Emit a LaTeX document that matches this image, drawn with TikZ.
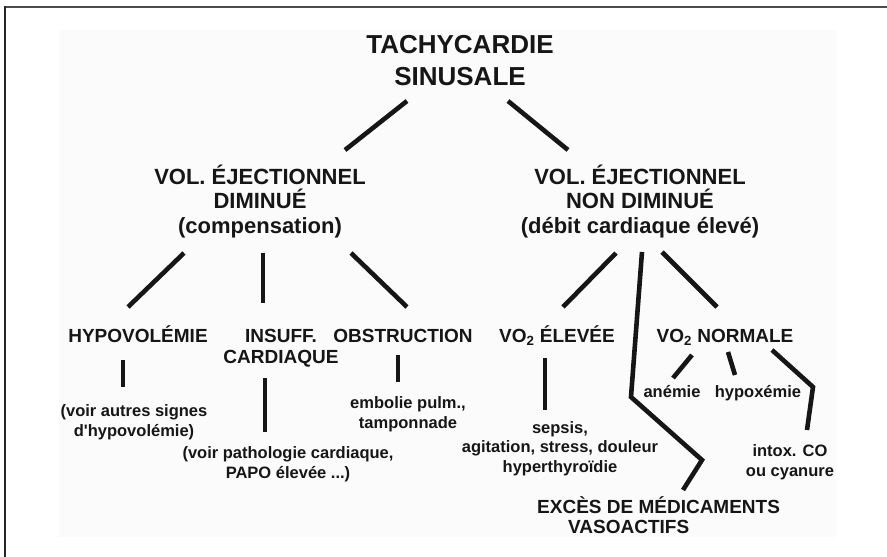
\documentclass[tikz,border=0pt]{standalone}
\usepackage{fontspec}
\setmainfont{Liberation Sans}
\usepackage{xcolor}
\usepackage{tikz}
\usetikzlibrary{positioning}

\definecolor{ink}{HTML}{161616}
\definecolor{paper}{HTML}{FBFBFB}

\begin{document}
\begin{tikzpicture}[
  x=1pt, y=-1pt,
  every node/.style={inner sep=0pt, text=ink, anchor=base},
  head/.style={font=\fontsize{26}{32}\selectfont\bfseries, align=center},
  branch/.style={font=\fontsize{22}{24.5}\selectfont\bfseries, align=center},
  cause/.style={font=\fontsize{19}{21}\selectfont\bfseries, align=center},
  note/.style={font=\fontsize{16.5}{19.5}\selectfont\bfseries, align=center},
  link/.style={draw=ink, line width=4.6pt}
]
  \useasboundingbox (0,0) rectangle (887,557);
  \fill[paper] (59,30) rectangle (836,537);
  \draw[gray!60!black, line width=2pt] (5,7) -- (887,7);
  \draw[black!85, line width=2pt] (5,6) -- (5,557);

  % texts (multi-line nodes sit on their last baseline)
  \node[head] (title) at (460,85) {TACHYCARDIE\\SINUSALE};
  \node[branch] (volA) at (260,233) {VOL. ÉJECTIONNEL\\DIMINUÉ\\(compensation)};
  \node[branch] (volB) at (640,233) {VOL. ÉJECTIONNEL\\NON DIMINUÉ\\(débit cardiaque élevé)};
  \node[cause] (hypo) at (138,342) {HYPOVOLÉMIE};
  \node[cause] (insuff) at (281,363) {INSUFF.\\CARDIAQUE};
  \node[cause] (obstr) at (403,342) {OBSTRUCTION};
  \node[cause] (vo2e) at (557,342) {VO\textsubscript{2} ÉLEVÉE};
  \node[cause] (vo2n) at (725,342) {VO\textsubscript{2} NORMALE};
  \node[note] (hypoNote) at (134,436) {(voir autres signes\\d\textquotesingle hypovolémie)};
  \node[note] (insuffNote) at (288,478) {(voir pathologie cardiaque,\\PAPO élevée ...)};
  \node[note] (obstrNote) at (408,428) {embolie pulm.,\\tamponnade};
  \node[note] (sepsis) at (560,472) {sepsis,\\agitation, stress, douleur\\hyperthyroïdie};
  \node[note] (anemie) at (672,397) {anémie};
  \node[note] (hypox) at (758,397) {hypoxémie};
  \node[note] (intox) at (790,476) {intox. CO\\ou cyanure};
  \node[cause, align=left, anchor=base west,
        font=\fontsize{19}{20}\selectfont\bfseries] (exces) at (537,533)
        {EXCÈS DE MÉDICAMENTS\\\hspace*{31pt}VASOACTIFS};

  % connector ends
  \coordinate (tA) at (407,101);  \coordinate (aT) at (345,150);
  \coordinate (tB) at (508,101);  \coordinate (bT) at (568,150);
  \coordinate (aH) at (184,253);  \coordinate (hA) at (128,307);
  \coordinate (aI) at (263,253);  \coordinate (iA) at (263,303);
  \coordinate (aO) at (351,253);  \coordinate (oA) at (407,307);
  \coordinate (hN) at (123,360);  \coordinate (nH) at (123,387);
  \coordinate (iN) at (265,378);  \coordinate (nI) at (265,432);
  \coordinate (oN) at (398,355);  \coordinate (nO) at (398,382);
  \coordinate (bE) at (616,253);  \coordinate (eB) at (563,307);
  \coordinate (bX) at (642,252);  \coordinate (xB) at (683,490);
  \coordinate (bN) at (662,252);  \coordinate (nB) at (717,307);
  \coordinate (eS) at (545,358);  \coordinate (sE) at (545,410);
  \coordinate (nAn) at (692,355); \coordinate (anN) at (673,378);
  \coordinate (nHy) at (728,352); \coordinate (hyN) at (735,375);
  \coordinate (nIn) at (772,350); \coordinate (inN) at (807,430);

  % links
  \draw[link] (tA) -- (aT);
  \draw[link] (tB) -- (bT);
  \draw[link] (aH) -- (hA);
  \draw[link] (aI) -- (iA);
  \draw[link] (aO) -- (oA);
  \draw[link] (hN) -- (nH);
  \draw[link] (iN) -- (nI);
  \draw[link] (oN) -- (nO);
  \draw[link] (bE) -- (eB);
  \draw[link] (bX) -- (631,397) -- (702,460) -- (xB);
  \draw[link] (bN) -- (nB);
  \draw[link] (eS) -- (sE);
  \draw[link] (nAn) -- (anN);
  \draw[link] (nHy) -- (hyN);
  \draw[link] (nIn) -- (813,387) -- (inN);
\end{tikzpicture}
\end{document}
